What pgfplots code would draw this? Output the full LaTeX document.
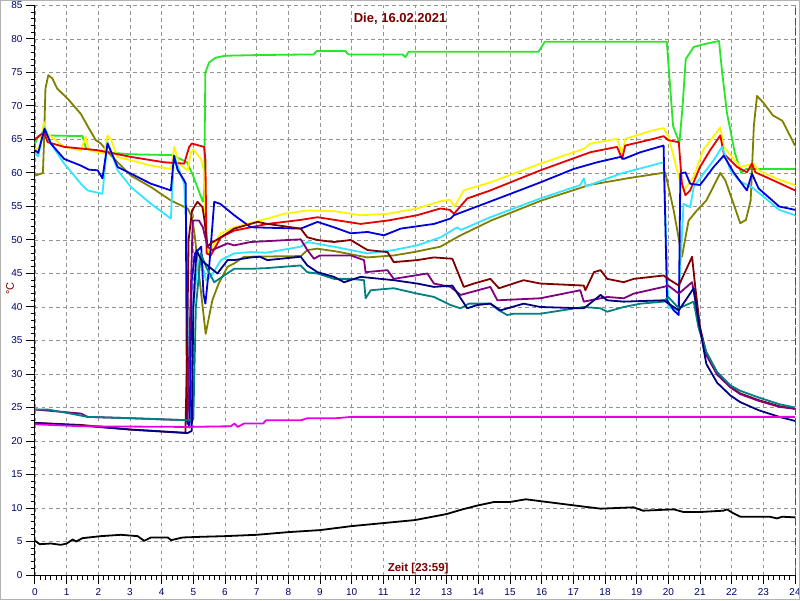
\documentclass[border=0pt]{standalone}
\usepackage{fontspec}
\setmainfont{Liberation Sans}
\usepackage{pgfplots}
\pgfplotsset{compat=1.18}
\definecolor{cgreen}{RGB}{40,230,40}
\definecolor{colive}{RGB}{128,128,0}
\definecolor{cyellow}{RGB}{255,245,0}
\definecolor{cred}{RGB}{230,0,0}
\definecolor{cblue}{RGB}{0,0,220}
\definecolor{ccyan}{RGB}{51,230,255}
\definecolor{cmaroon}{RGB}{128,0,0}
\definecolor{cpurple}{RGB}{128,0,128}
\definecolor{cnavy}{RGB}{0,0,128}
\definecolor{cteal}{RGB}{0,128,128}
\definecolor{cmagenta}{RGB}{230,0,230}
\definecolor{labnavy}{RGB}{0,0,110}
\definecolor{titred}{RGB}{120,0,0}
\definecolor{dgreen}{RGB}{0,128,0}
\begin{document}
\begin{tikzpicture}
\path[use as bounding box] (-35pt,-25pt) rectangle (765pt,575pt);
\fill[white] (-35pt,-25pt) rectangle (765pt,575pt);
\begin{axis}[
  scale only axis, width=760pt, height=569.5pt,
  xmin=0, xmax=24, ymin=0, ymax=85,
  axis lines=left, axis line style={-, black, line width=1pt},
  xtick={0,1,...,24}, ytick={0,5,...,85},
  minor x tick num=5, minor y tick num=4,
  tick align=outside, major tick length=9pt, minor tick length=4.5pt,
  tick style={black, line width=1pt},
  grid=major, major grid style={gray!85, line width=0.7pt, dash pattern=on 3.5pt off 3.5pt},
  /pgf/number format/assume math mode=true,
  ticklabel style={font=\fontsize{10}{12}\selectfont, text=labnavy},
  xticklabel style={yshift=-1pt},
  clip=false,
  every axis plot/.append style={line width=1.8pt, line join=round, mark=none},
]
\addplot[cgreen] coordinates {(0,64.4) (0.1,65.5) (0.25,65.9) (0.4,65.6) (1.5,65.5) (1.6,63.8) (1.7,63.5) (2.0,63.3) (2.5,63.0) (3.0,62.8) (4.0,62.7) (4.3,62.7) (4.5,62.3) (4.8,61.6) (5.0,59.5) (5.3,55.7) (5.34,57) (5.38,75) (5.5,76.5) (5.7,77.2) (6.0,77.5) (7.0,77.6) (8.8,77.7) (8.9,78.2) (9.8,78.2) (9.9,77.7) (11.6,77.7) (11.7,77.3) (11.8,78.1) (15.9,78.1) (16.1,79.6) (19.95,79.6) (20.15,67) (20.35,64.5) (20.45,70) (20.55,77) (20.8,78.8) (21.1,79.2) (21.6,79.7) (21.7,75) (21.85,69) (22.1,63) (22.3,60) (22.45,60.6) (24,60.6)};
\addplot[colive] coordinates {(0,59.6) (0.25,60) (0.28,64) (0.33,72.6) (0.42,74.6) (0.55,74.1) (0.7,72.6) (1.03,71.1) (1.45,68.8) (1.71,66.6) (1.92,64.9) (2.08,64.4) (2.4,62.6) (3.03,59.6) (3.66,57.9) (4.29,55.9) (4.82,54.7) (4.95,53.5) (5.03,51.2) (5.2,44) (5.39,36) (5.6,41) (5.8,43.5) (6.08,46) (6.29,46.5) (6.6,47.5) (8.4,47.6) (8.6,48.5) (8.92,48.7) (9.5,48.3) (10.5,47.4) (11.33,47.7) (11.97,48.2) (12.8,49) (13.4,50.6) (14.4,52.9) (16,55.9) (17.5,58.2) (18.7,59.2) (19.8,60) (19.9,60.1) (20.17,54.4) (20.43,47.5) (20.64,52.9) (20.9,54.4) (21.2,55.9) (21.64,60) (21.8,58.9) (22.17,53.9) (22.27,52.5) (22.45,53) (22.6,55.9) (22.7,67) (22.8,71.5) (23.0,70.5) (23.3,68.6) (23.6,67.8) (24,64.1)};
\addplot[cyellow] coordinates {(0,63.4) (0.15,64) (0.28,67.6) (0.38,65.9) (0.92,63.9) (1.45,63.4) (1.6,65.4) (1.7,63.4) (2.19,62.9) (2.29,65.6) (2.4,65) (2.6,62.4) (3.03,61.9) (3.66,61.1) (4.29,60.6) (4.4,63.9) (4.55,61.4) (4.82,60.4) (4.92,63) (5.0,63.5) (5.24,62.1) (5.33,60.4) (5.4,49.5) (5.5,48) (5.55,48.5) (5.87,51) (6.29,51.9) (7.34,53.2) (7.86,53.9) (8.6,54.4) (9.44,54.3) (10.28,53.7) (11.13,53.9) (12.07,54.7) (12.81,55.8) (13.1,56) (13.25,55.0) (13.54,57.4) (14.38,58.6) (15.96,61.4) (17.33,63.6) (17.54,64.4) (18.38,65.1) (18.54,62.9) (18.64,65.1) (19.54,66.4) (19.85,66.7) (20.0,65.5) (20.17,62.4) (20.38,58.5) (20.48,57.4) (20.8,59.4) (21.1,63.4) (21.64,66.8) (21.75,63.9) (22.27,60.9) (22.7,61.4) (22.85,60.4) (23.5,59) (24,58.2)};
\addplot[cred] coordinates {(0,65) (0.28,66.1) (0.4,64.6) (0.92,63.9) (1.98,63.4) (3.03,62.4) (4.08,61.6) (4.71,61.4) (4.87,63.9) (4.95,64.4) (5.34,63.9) (5.38,62) (5.42,48) (5.55,47.7) (5.87,50.4) (6.29,51.4) (7.34,52.4) (8.39,53) (8.92,53.4) (10.28,52.4) (11.13,52.9) (12.07,53.7) (12.8,54.7) (13.1,54.5) (13.23,53.9) (13.65,56.2) (14.38,57.4) (15.96,60.4) (17.54,63.1) (18.38,63.9) (18.54,62.1) (18.64,64.1) (19.54,65.1) (19.85,65.5) (20.0,64.9) (20.33,64.6) (20.43,58.4) (20.54,56.7) (20.69,57.4) (21.0,60.9) (21.32,63.4) (21.64,65.6) (21.75,62.9) (22.17,60.9) (22.48,60.1) (22.64,61.4) (22.75,60.1) (23.5,58.5) (24,57.4)};
\addplot[ccyan] coordinates {(0,62.9) (0.1,62.5) (0.3,66.9) (0.5,64.4) (0.92,61.4) (1.45,58.4) (1.66,57.4) (2.13,56.9) (2.29,64.6) (2.61,60.4) (3.03,57.9) (3.66,55.4) (4.29,53.2) (4.39,62.6) (4.71,58.4) (4.8,50) (4.85,25) (4.92,23) (5.0,40) (5.15,47) (5.3,46) (5.4,44) (5.55,44.5) (5.87,47) (6.29,48) (6.81,48.2) (7.3,48.1) (8.39,49) (8.6,49.7) (9.44,49) (10.5,48) (11.33,48.5) (12.07,49.2) (12.81,50.4) (13.33,51.9) (13.45,51.5) (14.38,53.4) (15.96,56.2) (17.22,58.2) (17.33,59.2) (17.4,58) (18.49,59.9) (19.85,61.6) (20.0,40) (20.3,39.5) (20.4,48) (20.48,55.4) (20.69,54.9) (20.8,57.9) (21.0,59.2) (21.43,61.9) (21.7,63.9) (21.96,60.4) (22.27,58.7) (22.6,58) (23,56.5) (23.5,54.5) (24,53.7)};
\addplot[cblue] coordinates {(0,63.4) (0.1,63) (0.3,66.6) (0.5,64.4) (0.92,62.1) (1.45,61.1) (1.7,60.5) (1.98,60.4) (2.13,59.2) (2.29,64.4) (2.61,60.9) (3.03,59.9) (3.66,58.4) (4.29,57.4) (4.39,62.6) (4.5,60.5) (4.71,58.9) (4.76,58.4) (4.8,23) (4.88,22) (4.95,44) (5.05,48) (5.25,49) (5.32,42) (5.38,40.5) (5.5,46) (5.66,55.7) (5.85,55.4) (6.29,53.7) (6.81,51.9) (8.39,51.7) (8.92,52.7) (9.44,51.9) (9.97,51) (10.5,51.2) (11.02,50.7) (11.55,51.7) (12.6,52.4) (13.12,53.2) (13.23,53.7) (14.07,55.2) (14.91,56.7) (15.96,58.6) (17.01,60.6) (17.75,61.6) (18.49,62.4) (18.59,62.1) (19.12,63.1) (19.85,64.1) (19.96,41) (20.17,39.5) (20.33,38.8) (20.38,59.9) (20.54,60.1) (20.69,58.4) (21.0,58.2) (21.43,60.9) (21.75,62.6) (22.06,60.1) (22.48,57.4) (22.64,59.9) (22.85,57.7) (23.5,55) (24,54.5)};
\addplot[cmaroon] coordinates {(0,22.7) (1.45,22.4) (3.03,21.7) (4.75,21.2) (4.79,30) (4.85,50) (4.96,54.4) (5.13,55.7) (5.29,54.9) (5.35,53) (5.45,49) (5.55,49.5) (5.87,50.4) (6.29,51.7) (7.03,52.7) (7.34,52.4) (8.39,51.7) (8.6,50.4) (8.92,50) (9.44,49.7) (9.97,50) (10.5,48.5) (11.13,48.2) (11.33,46.7) (12.07,47) (12.6,47.4) (13.18,47.2) (13.54,43) (13.86,43.5) (14.38,44.2) (14.65,42.8) (15.43,44) (15.96,43.5) (17.33,43.2) (17.38,42.5) (17.65,45.2) (17.86,45.5) (18.07,44.2) (18.59,43.7) (18.91,44.2) (19.85,44.7) (20.06,44) (20.33,43.2) (20.75,47.5) (20.85,43) (21.0,37) (21.2,33.1) (21.54,30.1) (21.96,28.1) (22.27,27.1) (22.85,26.1) (23.5,25.2) (24,24.8)};
\addplot[cpurple] coordinates {(0,24.7) (1.45,24.1) (1.66,23.6) (3.03,23.4) (4.82,23.1) (4.88,35) (4.98,52.9) (5.18,52.9) (5.3,51.9) (5.45,49) (5.6,48.5) (6.08,49.5) (6.29,49.2) (6.81,49.7) (8.39,50.1) (8.6,48.5) (8.81,47.2) (9.0,47.7) (9.97,47.7) (10.39,47) (10.44,45.2) (11.13,45.5) (11.33,44.2) (12.39,45) (12.6,43.5) (13.12,43) (13.44,41.8) (14.38,43) (14.6,41) (15.96,41.3) (17.22,42.5) (17.33,40.8) (18.07,41.5) (18.59,41.3) (18.91,42) (19.85,43) (20.0,43.2) (20.33,42) (20.75,43.7) (20.85,41) (21.0,36.5) (21.2,32.8) (21.54,29.9) (21.96,28) (22.27,27) (22.85,26) (23.5,25.1) (24,24.8)};
\addplot[cteal] coordinates {(0,24.7) (0.4,24.7) (1.0,24.2) (1.66,23.6) (3.03,23.4) (4.82,23.1) (5.0,23.3) (5.08,40) (5.24,48) (5.4,46) (5.66,43.7) (6.29,45.7) (6.81,45.7) (7.3,45.8) (8.39,46.2) (8.6,45.2) (8.92,45) (9.44,44.2) (9.97,44.2) (10.39,44) (10.44,41.3) (10.6,42.5) (11.33,42.8) (12.07,42) (12.6,41.5) (13.12,40.3) (13.44,39.8) (13.7,40.5) (14.38,40.5) (14.65,39.5) (14.91,38.8) (15.12,39) (15.96,39) (17.33,40) (17.86,39.8) (18.07,39.3) (18.59,40) (19.12,40.5) (19.85,40.8) (20.0,41.5) (20.33,39.8) (20.8,40.8) (20.95,37) (21.2,33.3) (21.54,30.3) (21.96,28.3) (22.27,27.5) (22.85,26.5) (23.5,25.5) (24,25.0)};
\addplot[cnavy] coordinates {(0,22.7) (1.45,22.3) (3.03,21.7) (4.82,21.2) (4.95,21.5) (5.0,40) (5.1,48.5) (5.25,47) (5.5,46) (5.76,45) (6.08,47) (6.29,47) (6.81,47.4) (7.1,47.5) (7.34,47) (8.39,47.5) (8.6,46.2) (8.92,45.2) (9.44,44.5) (9.76,43.7) (10.28,44.5) (11.33,44) (12.07,43.5) (12.6,43) (13.18,43.2) (13.65,39.8) (13.97,40.3) (14.38,40.5) (14.7,39.5) (15.43,40.5) (15.96,40) (17.33,39.8) (17.6,40.8) (17.86,41.8) (18.07,41) (18.59,40.8) (19.85,41) (20.33,39.5) (20.8,42.8) (20.95,38) (21.2,31.5) (21.54,28.7) (21.96,26.8) (22.27,25.8) (22.85,24.6) (23.5,23.6) (24,23.0)};
\addplot[cmagenta] coordinates {(0,22.5) (1.45,22.2) (4.8,22.1) (6.18,22.2) (6.3,22.6) (6.4,22.1) (6.6,22.6) (7.2,22.6) (7.3,23.1) (8.4,23.1) (8.6,23.4) (9.5,23.4) (10,23.6) (24,23.6)};
\addplot[black] coordinates {(0,5.1) (0.15,4.6) (0.5,4.7) (0.82,4.5) (1.0,4.7) (1.19,5.3) (1.3,5.0) (1.5,5.5) (2.08,5.8) (2.71,6.0) (3.24,5.8) (3.45,5.1) (3.66,5.6) (4.19,5.6) (4.3,5.2) (4.66,5.6) (5.24,5.7) (6,5.8) (7,6.0) (8,6.4) (9,6.7) (10,7.3) (11,7.75) (12,8.2) (13,9.1) (13.5,9.8) (14,10.4) (14.5,10.9) (15,10.9) (15.5,11.3) (16,11.0) (17,10.4) (17.86,9.9) (18.9,10.1) (19.2,9.6) (20.17,9.8) (20.48,9.4) (21.0,9.4) (21.74,9.6) (21.85,9.8) (22.06,9.2) (22.27,8.7) (23.2,8.7) (23.43,8.45) (23.6,8.7) (24,8.6)};
\addplot[dgreen, line width=1pt, dash pattern=on 7pt off 3pt] coordinates {(24,0) (24,85)};
\node[font=\fontsize{13}{15}\selectfont\bfseries, text=titred] at (axis cs:11.53,83.06) {Die, 16.02.2021};
\node[font=\fontsize{11.5}{13}\selectfont\bfseries, text=titred] at (axis cs:12.1,0.95) {Zeit [23:59]};
\node[font=\fontsize{11}{13}\selectfont, text=titred, rotate=90] at (axis cs:-0.79,42.8) {°C};
\end{axis}
\draw[gray!60, line width=1.5pt] (-34.25pt,-24.25pt) rectangle (764.25pt,574.25pt);
\end{tikzpicture}
\end{document}
